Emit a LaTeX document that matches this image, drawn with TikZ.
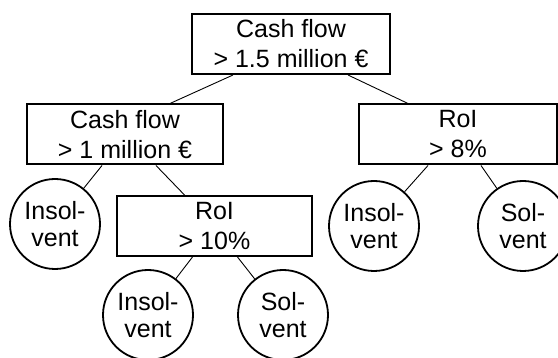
\documentclass[tikz,border=0pt]{standalone}
\usepackage{fontspec}
\setmainfont{Liberation Sans}
\begin{document}
\begin{tikzpicture}[x=1pt,y=-1pt,
  test/.style={draw, line width=2pt, minimum width=196pt, minimum height=60pt,
    inner sep=0pt, align=center, font=\fontsize{25}{30}\selectfont},
  leaf/.style={draw, circle, line width=1.8pt, minimum size=90pt, inner sep=0pt,
    align=center, font=\fontsize{25}{27}\selectfont},
  edge/.style={line width=0.9pt}]
\useasboundingbox (0,0) rectangle (558,358);

% decision nodes
\node[test, minimum width=198pt] (root) at (291,44) {Cash flow\\> 1.5 million €};
\node[test] (cf) at (125,134.5) {Cash flow\\> 1 million €};
\node[test, minimum width=198pt] (roiB) at (458,134.5) {RoI\\> 8\%};
\node[test, minimum width=195pt] (roiA) at (214.5,226) {RoI\\> 10\%};

% leaves
\node[leaf] (insA) at (55,224) {Insol-\\vent};
\node[leaf] (insB) at (148,315) {Insol-\\vent};
\node[leaf] (solB) at (283,315) {Sol-\\vent};
\node[leaf] (insC) at (374,226) {Insol-\\vent};
\node[leaf] (solC) at (523,226) {Sol-\\vent};

% branches
\draw[edge] ([xshift=-58pt]root.south) -- ([xshift=45pt]cf.north);
\draw[edge] ([xshift=57pt]root.south) -- ([xshift=-50pt]roiB.north);
\draw[edge] ([xshift=-23pt]cf.south) -- (insA);
\draw[edge] ([xshift=31pt]cf.south) -- ([xshift=-30pt]roiA.north);
\draw[edge] ([xshift=-22pt]roiA.south) -- (insB);
\draw[edge] ([xshift=23pt]roiA.south) -- (solB);
\draw[edge] ([xshift=-30pt]roiB.south) -- (insC);
\draw[edge] ([xshift=23pt]roiB.south) -- (solC);
\end{tikzpicture}
\end{document}
